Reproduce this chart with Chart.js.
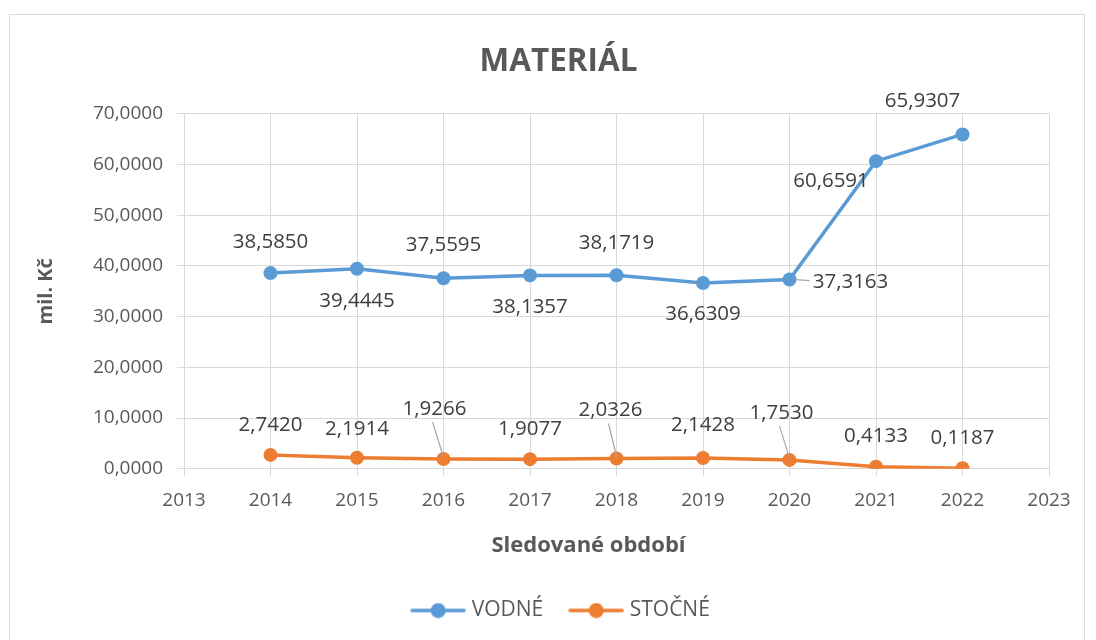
<!DOCTYPE html>
<html>
<head>
<meta charset="utf-8">
<script src="https://cdn.jsdelivr.net/npm/chart.js@4.4.0/dist/chart.umd.min.js"></script>
<style>
  html, body { margin: 0; padding: 0; background: #fff; }
  #wrap { position: relative; width: 1096px; height: 640px; }
  #frame { position: absolute; left: 9px; top: 14px; width: 1076px; height: 640px;
           border: 1px solid #d9d9d9; box-sizing: border-box; }
</style>
</head>
<body>
<div id="wrap">
  <div id="frame"></div>
  <canvas id="chart" width="1096" height="640"></canvas>
</div>
<script>
var YEARS   = [2014, 2015, 2016, 2017, 2018, 2019, 2020, 2021, 2022]
  , VODNE   = [38.5850, 39.4445, 37.5595, 38.1357, 38.1719, 36.6309, 37.3163, 60.6591, 65.9307]
  , STOCNE  = [2.7420, 2.1914, 1.9266, 1.9077, 2.0326, 2.1428, 1.7530, 0.4133, 0.1187]
  , X_MIN   = 2013
  , X_MAX   = 2023
  , Y_MAX   = 70
  , Y_STEP  = 10
  , NAMES   = ["VODNÉ", "STOČNÉ"]
  , COLORS  = ["#5B9BD5", "#ED7D31"]

// label placement relative to the marker, in px (dx, dy, leader line)
var LABEL_OFFSETS =
  [ [ [0, -31], [0, 32], [0, -33], [0, 32], [0, -32], [0, 31], [61, 3, 1], [-45, 20], [-40, -33] ]
  , [ [0, -30], [0, -29], [-9, -50, 1], [0, -30], [-6, -48, 1], [0, -33], [-8, -47, 1], [0, -31], [0, -30] ]
  ]

var FONT = "'Open Sans', 'Liberation Sans', sans-serif"
  , GREY = "#595959"
  , GRID = "#d9d9d9"

function fmt(v) {
  return v.toFixed(4).replace(".", ",")
}

function points(values) {
  return YEARS.map(function(y, i) { return {x: y, y: values[i]} })
}

function legendIcon(color) {
  var c = document.createElement("canvas")
  c.width = 56
  c.height = 16
  var g = c.getContext("2d")
  g.strokeStyle = color
  g.lineWidth = 3.5
  g.lineCap = "round"
  g.beginPath()
  g.moveTo(2, 8)
  g.lineTo(54, 8)
  g.stroke()
  g.fillStyle = color
  g.beginPath()
  g.arc(28, 8, 7.5, 0, Math.PI * 2)
  g.fill()
  return c
}

var dataLabels = {
  id: "dataLabels",
  afterDatasetsDraw: function(chart) {
    var ctx = chart.ctx
    ctx.save()
    ctx.font = "20.5px " + FONT
    ctx.textAlign = "center"
    ctx.textBaseline = "middle"
    chart.data.datasets.forEach(function(ds, di) {
      var meta = chart.getDatasetMeta(di)
      meta.data.forEach(function(pt, i) {
        var off = LABEL_OFFSETS[di][i]
          , lx  = pt.x + off[0]
          , ly  = pt.y + off[1]
          , txt = fmt(ds.data[i].y)
        if (off[2]) {
          var w = ctx.measureText(txt).width
          ctx.strokeStyle = "#a6a6a6"
          ctx.lineWidth = 1.2
          ctx.beginPath()
          if (Math.abs(off[0]) > Math.abs(off[1])) {
            ctx.moveTo(pt.x + 6, pt.y)
            ctx.lineTo(lx - w / 2 - 3, ly - 2)
          } else {
            ctx.moveTo(lx - 2, ly + 13)
            ctx.lineTo(pt.x, pt.y - 2)
          }
          ctx.stroke()
        }
        ctx.fillStyle = "#404040"
        ctx.fillText(txt, lx, ly)
      })
    })
    ctx.restore()
  }
}

// Excel centres title, legend and axis title a bit differently than Chart.js
var nudge = {
  id: "nudge",
  afterLayout: function(chart) {
    chart.titleBlock.left  += 17
    chart.titleBlock.right += 17
    chart.legend.left  += 21
    chart.legend.right += 21
    var x = chart.scales.x
    if (!x._nudged) {
      var orig = x.drawTitle
      x.drawTitle = function() {
        this.ctx.save()
        this.ctx.translate(-28, 0)
        orig.apply(this, arguments)
        this.ctx.restore()
      }
      x._nudged = true
    }
  }
}

new Chart(document.getElementById("chart"), {
  type: "line",
  data: {
    datasets: [VODNE, STOCNE].map(function(values, i) {
      return {
        label: NAMES[i],
        data: points(values),
        borderColor: COLORS[i],
        backgroundColor: COLORS[i],
        borderWidth: 3.5,
        pointRadius: 7,
        pointHoverRadius: 7,
        pointBorderWidth: 0,
        pointStyle: "circle",
        tension: 0
      }
    })
  },
  options: {
    responsive: false,
    animation: false,
    events: [],
    layout: { padding: { left: 34, right: 47, top: 0, bottom: 9 } },
    plugins: {
      title: {
        display: true,
        text: "MATERIÁL",
        color: GREY,
        font: { family: FONT, size: 31.5, weight: "bold", lineHeight: 1.2 },
        padding: { top: 43, bottom: 33 }
      },
      legend: {
        position: "bottom",
        labels: {
          usePointStyle: true,
          pointStyleWidth: 46,
          generateLabels: function(chart) {
            return chart.data.datasets.map(function(ds, i) {
              return { text: ds.label, pointStyle: legendIcon(COLORS[i]), fontColor: GREY,
                       lineWidth: 0, datasetIndex: i }
            })
          },
          color: GREY,
          font: { family: FONT, size: 21 },
          padding: 30
        }
      },
      tooltip: { enabled: false }
    },
    scales: {
      x: {
        type: "linear",
        min: X_MIN,
        max: X_MAX,
        ticks: { stepSize: 1, color: GREY, font: { family: FONT, size: 19 },
                 padding: 13, callback: function(v) { return String(v) } },
        grid: { color: GRID, lineWidth: 1, tickLength: 7, drawTicks: true },
        border: { color: GRID, width: 1 },
        title: { display: true, text: "Sledované období", color: GREY,
                 font: { family: FONT, size: 22, weight: "bold" }, padding: { top: 8, bottom: 11 } }
      },
      y: {
        min: 0,
        max: Y_MAX,
        afterFit: function(scale) { scale.width = 150 },
        ticks: { stepSize: Y_STEP, color: GREY, font: { family: FONT, size: 19 },
                 padding: 14, callback: function(v) { return fmt(v) } },
        grid: { color: GRID, lineWidth: 1, tickLength: 7 },
        border: { color: GRID, width: 1 },
        title: { display: true, text: "mil. Kč", color: GREY,
                 font: { family: FONT, size: 20, weight: "bold" }, padding: { top: 0, bottom: 20 } }
      }
    }
  },
  plugins: [dataLabels, nudge]
})
</script>
</body>
</html>
